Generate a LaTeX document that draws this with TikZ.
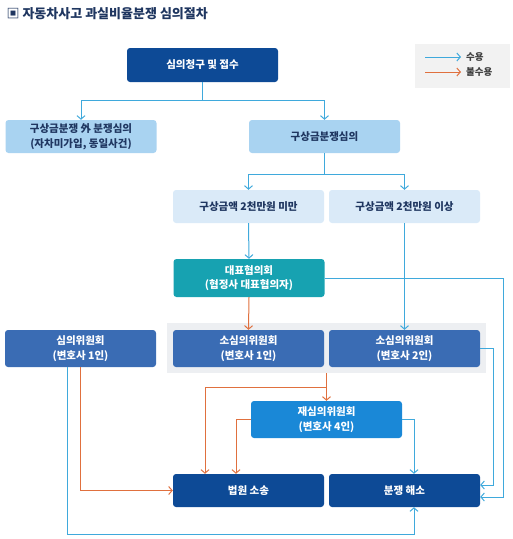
\documentclass[tikz,border=0pt]{standalone}
\usepackage{fontspec}
\setmainfont{Noto Sans CJK KR}
\usetikzlibrary{arrows.meta}
\definecolor{navy}{HTML}{0D4A96}
\definecolor{sky}{HTML}{A9D3F1}
\definecolor{pale}{HTML}{DAEAF8}
\definecolor{teal}{HTML}{17A2B1}
\definecolor{mid}{HTML}{3A6CB4}
\definecolor{bright}{HTML}{1A88D7}
\definecolor{accblue}{HTML}{3FA9DC}
\definecolor{rejorange}{HTML}{E0703E}
\definecolor{panelgray}{HTML}{EDEFF2}
\definecolor{keygray}{HTML}{F2F2F2}
\definecolor{ink}{HTML}{1F3660}
\tikzset{
  acc/.style={line width=1pt,draw=accblue,-{Straight Barb[length=3.5pt,width=8pt]}},
  rej/.style={line width=1pt,draw=rejorange,-{Straight Barb[length=3.5pt,width=8pt]}},
  bx/.style={rounded corners=3pt,minimum width=151pt,minimum height=33pt,align=center,
    inner sep=0pt,font=\bfseries\fontsize{10.5}{14.5}\selectfont},
  dark/.style={bx,fill=#1,text=white},
  light/.style={bx,fill=#1,text=ink},
  lbl/.style={font=\bfseries\fontsize{9.5}{11}\selectfont,text=black!75,inner sep=1pt}
}

\begin{document}
\begin{tikzpicture}[x=1pt,y=-1pt]
\useasboundingbox (0,0) rectangle (513,539);
% title and key
\node[anchor=west,text=ink,font=\bfseries\fontsize{13}{15}\selectfont] (ttl) at (3,14) {▣ 자동차사고 과실비율분쟁 심의절차};
\fill[keygray] (415,44) rectangle (510,88);
\coordinate (ka) at (425,57);
\coordinate (kb) at (425,72);
\node[lbl,anchor=west] (k1) at (465,57) {수용};
\node[lbl,anchor=west] (k2) at (465,72) {불수용};
\draw[acc,shorten >=4pt] (ka) -- (k1.west);
\draw[rej,shorten >=4pt] (kb) -- (k2.west);
% gray panel behind the two small committees
\fill[panelgray] (167,323) rectangle (486,373);
% boxes
\node[dark=navy,minimum height=34pt] (req) at (202.5,65) {심의청구 및 접수};
\node[light=sky] (other) at (81,136.5) {구상금분쟁 外 분쟁심의\\(자차미가입, 동일사건)};
\node[light=sky] (gu) at (324.5,136.5) {구상금분쟁심의};
\node[light=pale] (lo) at (248.5,206.5) {구상금액 2천만원 미만};
\node[light=pale] (hi) at (404.5,206.5) {구상금액 2천만원 이상};
\node[dark=teal,minimum height=38pt] (rep) at (249,278) {대표협의회\\(협정사 대표협의자)};
\node[dark=mid,minimum height=37pt] (com) at (80.5,348.5) {심의위원회\\(변호사 1인)};
\node[dark=mid,minimum height=37pt] (sub1) at (248.5,348.5) {소심의위원회\\(변호사 1인)};
\node[dark=mid,minimum height=37pt] (sub2) at (404.5,348.5) {소심의위원회\\(변호사 2인)};
\node[dark=bright,minimum height=37pt] (re) at (326.5,419.5) {재심의위원회\\(변호사 4인)};
\node[dark=navy] (court) at (248.5,490.5) {법원 소송};
\node[dark=navy] (res) at (404.5,490.5) {분쟁 해소};
% turning points
\coordinate (t1) at (202.5,100);
\coordinate (t2) at (324.5,174);
\coordinate (t3) at (326.5,373);
\coordinate (t4) at (326.5,387);
\coordinate (t5) at (67,534);
\coordinate (t6) at (503,278);
\coordinate (t7) at (493,348.5);
% connectors
\draw[acc] (req.south) -- (t1) -| (other.north);
\draw[acc] (t1) -| (gu.north);
\draw[acc] (gu.south) -- (t2) -| (lo.north);
\draw[acc] (t2) -| (hi.north);
\draw[acc] (lo.south) -- (rep.north);
\draw[acc] (hi.south) -- (sub2.north);
\draw[rej] (rep.south) -- (sub1.north);
\draw[acc] (rep.east) -- (t6) |- ([yshift=-6.5pt]res.east);
\draw[acc] (sub2.east) -- (t7) |- ([yshift=5.5pt]res.east);
\draw[rej] (t3) -- (re.north);
\draw[rej] (t4) -| ([xshift=-43.5pt]court.north);
\draw[rej] (re.west) -| ([xshift=-12.5pt]court.north);
\draw[acc] (re.east) -| ([xshift=9.5pt]res.north);
\draw[rej] (com.south) |- (court.west);
\draw[acc] ([xshift=-13.5pt]com.south) -- (t5) -| ([xshift=9.5pt]res.south);
\end{tikzpicture}
\end{document}
